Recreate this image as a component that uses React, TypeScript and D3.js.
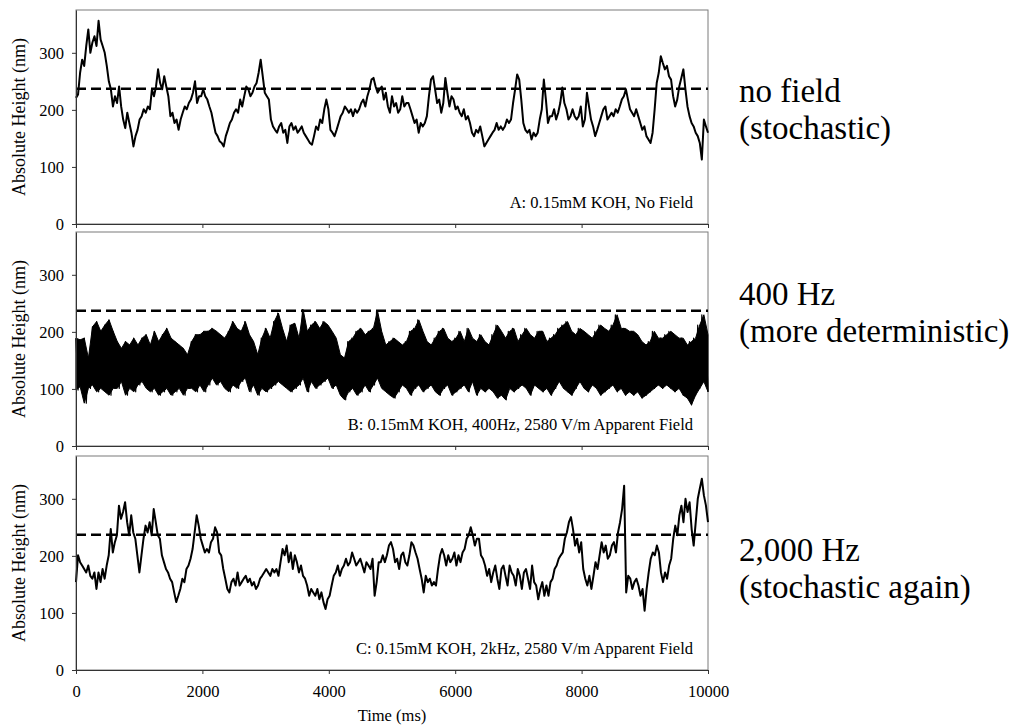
import React, { useEffect, useRef } from 'react';
import * as d3 from 'd3';

// time axis (ms) and height axis (nm)
const xTicks = [0, 2000, 4000, 6000, 8000, 10000];
const yTicks = [0, 100, 200, 300];
const threshold = 237;

const panelNotes = [
  'A: 0.15mM KOH, No Field',
  'B: 0.15mM KOH, 400Hz, 2580 V/m Apparent Field',
  'C: 0.15mM KOH, 2kHz, 2580 V/m Apparent Field',
];
const sideNotes = [
  ['no field', '(stochastic)'],
  ['400 Hz', '(more deterministic)'],
  ['2,000 Hz', '(stochastic again)'],
];

// panel A: height trace, evenly sampled over 0-10000 ms
const heightA = [
  221, 227, 265, 288, 277, 312, 341, 300, 318, 329, 312, 356, 323, 312, 300, 277, 250, 236, 206, 224,
  212, 241, 206, 183, 168, 195, 177, 160, 136, 154, 165, 183, 189, 201, 195, 206, 201, 236, 224, 241,
  271, 247, 236, 259, 241, 224, 189, 195, 177, 183, 165, 183, 195, 206, 201, 212, 218, 230, 250, 212,
  224, 224, 236, 224, 218, 206, 195, 177, 160, 154, 145, 142, 136, 154, 165, 177, 183, 195, 201, 195,
  218, 206, 224, 241, 236, 224, 230, 241, 247, 265, 288, 259, 230, 224, 218, 183, 171, 165, 160, 171,
  177, 160, 165, 142, 171, 177, 165, 171, 160, 165, 171, 160, 154, 148, 142, 139, 154, 171, 165, 183,
  177, 201, 218, 201, 165, 160, 154, 165, 177, 189, 195, 206, 201, 195, 201, 189, 201, 195, 201, 212,
  218, 206, 224, 236, 253, 256, 241, 230, 236, 241, 218, 230, 206, 195, 224, 206, 212, 195, 201, 224,
  206, 212, 212, 201, 189, 177, 183, 160, 177, 171, 177, 189, 224, 253, 259, 236, 212, 218, 195, 212,
  256, 230, 206, 224, 218, 201, 206, 195, 189, 201, 183, 189, 177, 160, 154, 165, 160, 171, 154, 136,
  142, 148, 154, 160, 165, 177, 165, 171, 165, 171, 183, 177, 183, 212, 236, 262, 253, 218, 177, 165,
  160, 165, 148, 160, 154, 160, 183, 201, 253, 218, 177, 189, 189, 201, 183, 195, 212, 239, 212, 201,
  183, 189, 201, 189, 183, 189, 206, 171, 183, 230, 206, 183, 171, 154, 165, 177, 189, 201, 206, 183,
  189, 195, 189, 201, 195, 206, 218, 224, 236, 218, 201, 195, 189, 201, 189, 177, 165, 171, 154, 148,
  142, 160, 201, 247, 265, 294, 282, 271, 277, 259, 253, 224, 206, 218, 241, 256, 271, 236, 206, 189,
  177, 171, 160, 154, 142, 113, 183, 171, 160,
];

// panel B: upper and lower excursions of the 400 Hz trace
const bHigh = [
  189, 186, 189, 154, 209, 218, 201, 212, 221, 201,
  183, 171, 183, 177, 189, 177, 189, 195, 177, 201,
  183, 195, 206, 189, 183, 177, 171, 160, 183, 195,
  195, 201, 201, 206, 201, 195, 189, 201, 218, 206,
  201, 218, 195, 183, 160, 189, 206, 189, 218, 233,
  206, 183, 212, 215, 189, 239, 201, 212, 218, 206,
  218, 212, 201, 189, 160, 154, 183, 189, 201, 206,
  195, 201, 206, 237, 201, 177, 183, 189, 183, 177,
  183, 201, 206, 221, 201, 183, 177, 189, 201, 206,
  189, 183, 189, 201, 183, 206, 189, 183, 195, 183,
  177, 195, 212, 201, 189, 201, 206, 183, 195, 206,
  195, 189, 201, 201, 183, 189, 195, 206, 212, 218,
  201, 195, 206, 201, 195, 189, 201, 212, 206, 201,
  212, 230, 206, 206, 201, 201, 195, 183, 177, 183,
  201, 189, 189, 195, 201, 195, 189, 189, 177, 183,
  189, 212, 230, 195,
];
const bLow = [
  98, 104, 75, 101, 107, 95, 101, 95, 89, 101,
  101, 113, 89, 101, 95, 107, 113, 101, 95, 101,
  89, 95, 101, 89, 95, 101, 89, 101, 101, 95,
  107, 95, 107, 119, 107, 113, 101, 95, 107, 101,
  113, 119, 95, 107, 89, 101, 95, 101, 107, 113,
  107, 101, 95, 101, 107, 119, 95, 113, 101, 107,
  113, 119, 101, 107, 89, 81, 95, 101, 89, 95,
  107, 95, 107, 119, 101, 95, 89, 84, 95, 107,
  101, 89, 101, 107, 95, 101, 107, 95, 89, 101,
  107, 89, 95, 101, 107, 95, 113, 89, 101, 95,
  101, 95, 84, 89, 81, 101, 95, 101, 107, 101,
  89, 107, 101, 95, 101, 89, 101, 113, 101, 95,
  89, 101, 113, 101, 95, 107, 101, 89, 95, 101,
  107, 95, 101, 89, 95, 89, 95, 84, 89, 95,
  101, 107, 101, 107, 101, 95, 101, 89, 84, 72,
  89, 101, 113, 95,
];

// panel C: height trace, evenly sampled over 0-10000 ms
const heightC = [
  154, 201, 189, 183, 177, 171, 183, 165, 160, 171, 142, 171, 154, 177, 160, 183, 201, 247, 206, 224,
  236, 288, 265, 277, 294, 259, 236, 271, 241, 230, 201, 171, 201, 230, 253, 241, 259, 236, 282, 259,
  236, 230, 201, 189, 177, 171, 160, 154, 136, 119, 130, 142, 160, 154, 177, 183, 195, 212, 241, 271,
  253, 230, 218, 206, 212, 206, 224, 230, 250, 241, 206, 201, 177, 160, 142, 136, 154, 160, 148, 171,
  148, 154, 160, 165, 154, 160, 148, 154, 142, 148, 160, 165, 171, 177, 171, 165, 177, 171, 177, 165,
  189, 212, 201, 218, 189, 206, 177, 201, 189, 171, 183, 165, 160, 148, 130, 142, 136, 130, 142, 124,
  136, 119, 107, 124, 130, 148, 165, 171, 183, 165, 177, 183, 195, 183, 189, 206, 195, 183, 189, 195,
  183, 171, 189, 183, 177, 195, 130, 154, 189, 189, 201, 189, 201, 218, 224, 212, 189, 195, 177, 201,
  206, 189, 183, 201, 224, 218, 206, 195, 177, 160, 136, 165, 154, 160, 148, 154, 148, 177, 201, 212,
  201, 183, 201, 189, 195, 206, 183, 201, 189, 206, 212, 230, 236, 250, 236, 218, 230, 230, 201, 195,
  183, 165, 177, 154, 171, 183, 160, 142, 177, 183, 165, 148, 183, 171, 165, 148, 177, 165, 142, 171,
  177, 160, 142, 183, 154, 148, 124, 142, 154, 130, 148, 130, 154, 160, 177, 183, 195, 201, 206, 230,
  241, 259, 268, 247, 218, 230, 206, 224, 177, 160, 148, 165, 142, 165, 189, 177, 201, 224, 206, 218,
  195, 201, 218, 224, 206, 241, 259, 282, 323, 136, 165, 160, 142, 154, 160, 148, 130, 142, 104, 142,
  171, 195, 206, 201, 218, 206, 171, 154, 171, 160, 183, 195, 230, 253, 236, 271, 288, 259, 300, 277,
  294, 247, 218, 259, 300, 318, 335, 306, 288, 259,
];

const FONT = "'Liberation Serif', 'Times New Roman', serif";

function evenly(values: number[]): [number, number][] {
  return values.map((v, i) => [(i * 10000) / (values.length - 1), v]);
}

// the 400 Hz trace swings between its upper and lower excursions faster than a pixel,
// so it reads as a filled band with a zigzag outline
function zigzag(hi: number[], lo: number[]): [number, number][] {
  const pts: [number, number][] = [];
  const n = hi.length * 2 - 1;
  hi.forEach((h, i) => {
    pts.push([((2 * i) * 10000) / n, h]);
    pts.push([((2 * i + 1) * 10000) / n, lo[i]]);
  });
  return pts;
}

export default function App() {
  const ref = useRef<SVGSVGElement>(null);

  useEffect(() => {
    const svg = d3.select(ref.current);
    svg.selectAll('*').remove();

    const left = 76;
    const right = 708;
    const tops = [10, 232, 456];
    const ph = 214;

    const x = d3.scaleLinear().domain([0, 10000]).range([left, right]);

    tops.forEach((top, i) => {
      const y = d3.scaleLinear().domain([0, 375]).range([top + ph, top]);
      const g = svg.append('g');

      g.append('rect')
        .attr('x', left)
        .attr('y', top)
        .attr('width', right - left)
        .attr('height', ph)
        .attr('fill', 'none')
        .attr('stroke', '#7a7a7a')
        .attr('stroke-width', 1);

      const line = d3.line<[number, number]>()
        .x(d => x(d[0]))
        .y(d => y(d[1]));

      if (i === 1) {
        const n = bHigh.length;
        const area = d3.area<number>()
          .x((_, k) => x((k * 10000) / (n - 1)))
          .y0((_, k) => y(bLow[k]))
          .y1(d => y(d));
        g.append('path')
          .attr('d', area(bHigh))
          .attr('fill', '#000')
          .attr('stroke', '#000')
          .attr('stroke-width', 1)
          .attr('stroke-linejoin', 'round');
        g.append('path')
          .attr('d', line(zigzag(bHigh, bLow)))
          .attr('fill', 'none')
          .attr('stroke', '#000')
          .attr('stroke-width', 1.2)
          .attr('stroke-linejoin', 'round');
      } else {
        g.append('path')
          .attr('d', line(evenly(i === 0 ? heightA : heightC)))
          .attr('fill', 'none')
          .attr('stroke', '#000')
          .attr('stroke-width', 2)
          .attr('stroke-linejoin', 'round');
      }

      g.append('line')
        .attr('x1', left)
        .attr('x2', right)
        .attr('y1', y(threshold))
        .attr('y2', y(threshold))
        .attr('stroke', '#000')
        .attr('stroke-width', 2.5)
        .attr('stroke-dasharray', '10,5');

      const ya = g.append('g')
        .attr('transform', `translate(${left},0)`)
        .call(d3.axisLeft(y).tickValues(yTicks).tickSize(4).tickSizeOuter(0).tickPadding(8));

      const xa = g.append('g')
        .attr('transform', `translate(0,${top + ph})`)
        .call(
          d3.axisBottom(x)
            .tickValues(xTicks)
            .tickSize(4)
            .tickSizeOuter(0)
            .tickPadding(11)
            .tickFormat(i === 2 ? d3.format('d') : () => '')
        );

      [ya, xa].forEach(a => {
        a.selectAll('path, line').attr('stroke', '#333');
        a.selectAll('text')
          .attr('fill', '#000')
          .attr('font-family', FONT)
          .attr('font-size', 16.5);
      });

      g.append('text')
        .attr('transform', `translate(25,${top + ph / 2}) rotate(-90)`)
        .attr('text-anchor', 'middle')
        .attr('font-family', FONT)
        .attr('font-size', 18)
        .text('Absolute Height (nm)');

      g.append('text')
        .attr('x', 693)
        .attr('y', top + ph - 16)
        .attr('text-anchor', 'end')
        .attr('font-family', FONT)
        .attr('font-size', 16.5)
        .text(panelNotes[i]);
    });

    svg.append('text')
      .attr('x', (left + right) / 2)
      .attr('y', 721)
      .attr('text-anchor', 'middle')
      .attr('font-family', FONT)
      .attr('font-size', 16.5)
      .text('Time (ms)');

    const sideY = [102, 305, 561];
    sideNotes.forEach((lines, i) => {
      lines.forEach((s, j) => {
        svg.append('text')
          .attr('x', 739)
          .attr('y', sideY[i] + j * 37)
          .attr('font-family', FONT)
          .attr('font-size', 33)
          .text(s);
      });
    });
  }, []);

  return (
    <svg
      ref={ref}
      width={1011}
      height={728}
      style={{ position: 'absolute', left: 0, top: 0, background: '#fff' }}
    />
  );
}
